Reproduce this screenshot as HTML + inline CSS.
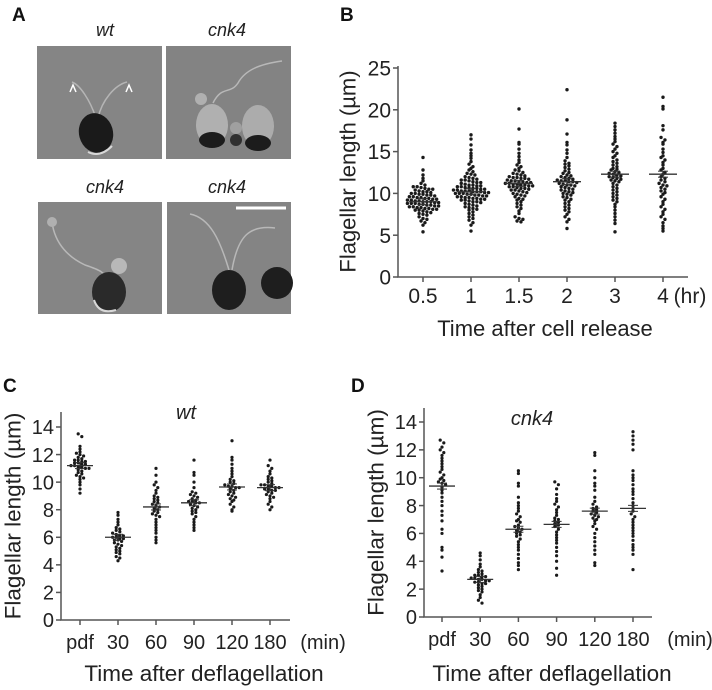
<!DOCTYPE html>
<html><head><meta charset="utf-8"><style>
html,body{margin:0;padding:0;background:#fff;}
svg{display:block;font-family:"Liberation Sans",Arial,sans-serif;}
</style></head><body>
<svg id="fig" width="712" height="690" viewBox="0 0 712 690" xmlns="http://www.w3.org/2000/svg">
<g>
<text x="12" y="21" font-size="19" font-weight="bold" fill="#111">A</text>
<text x="105" y="36" font-size="18" font-style="italic" text-anchor="middle" fill="#222">wt</text>
<text x="227" y="36" font-size="18" font-style="italic" text-anchor="middle" fill="#222">cnk4</text>
<text x="105" y="193" font-size="18" font-style="italic" text-anchor="middle" fill="#222">cnk4</text>
<text x="227" y="193" font-size="18" font-style="italic" text-anchor="middle" fill="#222">cnk4</text>
<g>
<rect x="37" y="46" width="125" height="113" fill="#858585"/>
<path d="M96 118 C90 100 80 85 72 82 M98 118 C102 100 115 85 127 82" stroke="#b5b5b5" stroke-width="1.5" fill="none"/>
<ellipse cx="96" cy="133" rx="17" ry="20" fill="#1a1a1a" transform="rotate(-15 96 133)"/>
<path d="M88 152 q12 6 24 -6" stroke="#d8d8d8" stroke-width="2" fill="none"/>
<path d="M70 92 l3 -7 l3 7 M126 92 l3 -7 l3 7" stroke="#fff" stroke-width="1.5" fill="none"/>
</g>
<g>
<rect x="166" y="46" width="125" height="113" fill="#838383"/>
<path d="M213 103 C222 85 230 95 238 83 C245 70 260 64 282 61" stroke="#b8b8b8" stroke-width="1.5" fill="none"/>
<ellipse cx="212" cy="125" rx="16" ry="21" fill="#b0b0b0"/>
<ellipse cx="212" cy="140" rx="13" ry="8" fill="#1c1c1c"/>
<ellipse cx="258" cy="126" rx="16" ry="21" fill="#acacac"/>
<ellipse cx="258" cy="143" rx="13" ry="8" fill="#1c1c1c"/>
<circle cx="201" cy="99" r="6" fill="#b0b0b0"/>
<circle cx="236" cy="128" r="6" fill="#a0a0a0"/><circle cx="236" cy="140" r="6" fill="#303030"/>
</g>
<g>
<rect x="38" y="202" width="124" height="112" fill="#858585"/>
<path d="M52 222 C55 245 70 258 85 265 C100 270 105 272 108 282" stroke="#b8b8b8" stroke-width="1.5" fill="none"/>
<circle cx="52" cy="222" r="5" fill="#b0b0b0"/>
<circle cx="119" cy="266" r="8" fill="#b8b8b8"/>
<ellipse cx="109" cy="292" rx="17" ry="20" fill="#2a2a2a"/>
<path d="M94 300 q5 15 22 10" stroke="#d8d8d8" stroke-width="2" fill="none"/>
</g>
<g>
<rect x="167" y="202" width="124" height="112" fill="#848484"/>
<path d="M229 270 C220 240 210 218 190 214 M232 270 C238 235 250 225 275 228" stroke="#b8b8b8" stroke-width="1.5" fill="none"/>
<ellipse cx="229" cy="290" rx="17" ry="20" fill="#1e1e1e"/>
<ellipse cx="277" cy="283" rx="16" ry="16" fill="#1e1e1e"/>
<line x1="236" y1="208" x2="286" y2="208" stroke="#fff" stroke-width="3"/>
</g>
</g>
<text x="340" y="21" font-size="19" font-weight="bold" fill="#111">B</text>
<text x="3" y="392" font-size="19" font-weight="bold" fill="#111">C</text>
<text x="351" y="392" font-size="19" font-weight="bold" fill="#111">D</text>
<text x="186" y="419" font-size="20" font-style="italic" text-anchor="middle" fill="#222">wt</text>
<text x="532" y="425" font-size="20" font-style="italic" text-anchor="middle" fill="#222">cnk4</text>
</svg>
<script>
// Panel B data
const bCats = ["0.5","1","1.5","2","3","4"];
const bTicks = [0,5,10,15,20,25];
const bMeans = [9.0,10.2,11.2,11.4,12.3,12.3];
const b05 = [14.3,12.8,12.2,11.8,11.5,11.2,11,10.8,10.8,10.7,10.6,10.5,10.5,10.4,10.3,10.2,10.2,10.1,10,10,9.9,9.9,9.8,9.8,9.7,9.6,9.6,9.5,9.5,9.4,9.4,9.3,9.3,9.2,9.2,9.1,9.1,9,9,9,8.9,8.9,8.8,8.8,8.8,8.7,8.7,8.6,8.6,8.5,8.5,8.4,8.4,8.3,8.3,8.2,8.2,8.1,8.1,8,8,7.9,7.8,7.7,7.6,7.5,7.4,7.2,7,6.9,6.7,6.5,6.2,5.4];
const b1 = [17,16.5,15.8,15.2,14.8,14.5,14.2,13.8,13.5,13.2,13,12.8,12.6,12.4,12.3,12.2,12,11.9,11.8,11.7,11.6,11.6,11.5,11.4,11.3,11.3,11.2,11.1,11,11,10.9,10.9,10.8,10.8,10.7,10.7,10.6,10.6,10.5,10.5,10.4,10.4,10.3,10.3,10.3,10.2,10.2,10.2,10.1,10.1,10,10,10,9.9,9.9,9.8,9.8,9.7,9.7,9.6,9.6,9.5,9.5,9.4,9.4,9.3,9.3,9.2,9.2,9.1,9,9,8.9,8.8,8.7,8.6,8.5,8.4,8.3,8.2,8.1,8,7.8,7.6,7.4,7.2,7,6.8,6.5,6.2,5.5];
const b15 = [20.1,17.7,16.1,15.9,15.3,14.8,14.4,14,13.7,13.4,13.2,13,12.8,12.7,12.5,12.4,12.3,12.2,12.1,12,11.9,11.9,11.8,11.8,11.7,11.6,11.5,11.5,11.4,11.4,11.3,11.3,11.2,11.2,11.1,11.1,11,11,10.9,10.9,10.8,10.8,10.7,10.6,10.6,10.5,10.4,10.4,10.3,10.2,10.1,10,9.9,9.8,9.7,9.6,9.4,9.3,9.2,9,8.8,8.6,8.4,8.2,7.9,7.6,7.2,7,6.9,6.7,6.6];
const b2 = [22.4,18.8,17.1,16.1,15.8,15.2,14.8,14.3,13.9,13.6,13.5,13.3,13.1,12.9,12.7,12.5,12.4,12.2,12.1,12,11.9,11.8,11.7,11.6,11.5,11.5,11.4,11.4,11.3,11.2,11.1,11,11,10.9,10.8,10.7,10.6,10.5,10.4,10.3,10.2,10.1,10,9.9,9.8,9.6,9.5,9.3,9.2,9,8.8,8.6,8.4,8.2,8,7.8,7.5,7.2,6.9,6.6,5.8];
const b3 = [18.4,18,17.6,17.2,16.8,16.5,16.2,15.9,15.6,15.3,15,14.8,14.5,14.3,14,13.8,13.6,13.4,13.2,13,12.9,12.8,12.6,12.5,12.4,12.3,12.2,12.1,12,11.9,11.8,11.7,11.6,11.5,11.4,11.2,11,10.8,10.6,10.4,10.2,10,9.8,9.6,9.4,9.2,9,8.7,8.4,8,7.6,7.2,6.8,6.4,5.4];
const b4 = [21.5,20.4,20.1,18.1,17.6,16.7,16.4,16.1,15.9,15.3,14.9,14.5,14.3,14,13.7,13.4,13,12.8,12.5,12.3,12,11.8,11.6,11.4,11.2,11,10.9,10.7,10.5,10.3,10.1,9.9,9.6,9.3,9,8.7,8.4,8.1,7.8,7.5,7.2,6.9,6.5,6.1,5.8,5.5];
// Panels C/D data
const cdCats = ["pdf","30","60","90","120","180"];
const cdTicks = [0,2,4,6,8,10,12,14];
const cMeans = [11.2,6.0,8.2,8.5,9.65,9.6];
const cPdf = [13.5,13.3,12.6,12.4,12.2,12.1,12,11.9,11.8,11.7,11.6,11.6,11.5,11.5,11.4,11.4,11.3,11.3,11.2,11.2,11.1,11.1,11,11,10.9,10.8,10.7,10.6,10.5,10.4,10.3,10.2,10,9.8,9.5,9.2];
const c30 = [7.8,7.6,7.3,7.1,6.9,6.7,6.6,6.5,6.4,6.3,6.2,6.1,6.1,6,6,5.9,5.9,5.8,5.8,5.7,5.6,5.5,5.4,5.3,5.2,5.1,5,4.9,4.8,4.6,4.5,4.3];
const c60 = [11,10.5,10,9.8,9.6,9.4,9.2,9,8.9,8.8,8.7,8.6,8.5,8.4,8.3,8.2,8.1,8,7.9,7.8,7.7,7.6,7.5,7.3,7.1,6.9,6.7,6.5,6.3,6,5.8,5.6];
const c90 = [11.6,10.7,10.5,10,9.6,9.3,9.2,9.1,9,8.9,8.8,8.7,8.6,8.6,8.5,8.5,8.4,8.3,8.2,8.1,8,7.9,7.8,7.7,7.5,7.3,7.1,6.9,6.7,6.5];
const c120 = [13,11.8,11.6,11.3,11,10.8,10.6,10.4,10.2,10.1,10,9.9,9.8,9.7,9.7,9.6,9.6,9.5,9.4,9.3,9.2,9.1,9,8.9,8.8,8.7,8.6,8.4,8.2,8,7.9];
const c180 = [11.6,11.2,11,10.8,10.6,10.4,10.3,10.2,10.1,10,9.9,9.8,9.8,9.7,9.7,9.6,9.6,9.5,9.5,9.4,9.4,9.3,9.2,9.1,9,8.9,8.8,8.6,8.4,8.2,8];
const dMeans = [9.4,2.7,6.3,6.65,7.6,7.8];
const dPdf = [12.7,12.5,12.2,12,11.8,11.6,11.4,11.2,11,10.8,10.6,10.4,10.2,10,9.9,9.8,9.7,9.6,9.5,9.3,9.1,8.9,8.6,8.3,8,7.6,7.3,6.9,6.3,6,5,4.8,4.3,3.3];
const d30 = [4.6,4.4,4.1,3.8,3.6,3.4,3.3,3.2,3.1,3,3,2.9,2.9,2.8,2.8,2.7,2.7,2.6,2.6,2.5,2.5,2.4,2.4,2.3,2.2,2.1,2,1.9,1.8,1.6,1.4,1.2,1];
const d60 = [10.5,10.3,9.6,9.4,8.6,8.2,8,7.8,7.6,7.4,7.2,7,6.9,6.8,6.6,6.5,6.4,6.3,6.2,6.1,6,5.9,5.8,5.6,5.4,5.2,5,4.8,4.5,4.2,3.9,3.7,3.4];
const d90 = [9.7,9.5,9.2,8.8,8.5,8.3,8.1,7.9,7.7,7.5,7.3,7.1,7,6.9,6.8,6.7,6.6,6.5,6.3,6.1,5.9,5.7,5.5,5.3,5,4.7,4.4,4,3.5,3];
const d120 = [11.8,11.6,10.5,10,9.6,9.4,9.1,8.6,8.3,8.1,7.9,7.8,7.7,7.6,7.5,7.4,7.3,7.2,7.1,7,6.9,6.7,6.5,6.3,6,5.7,5.4,5.1,4.8,4.5,3.9,3.7];
const d180 = [13.3,13,12.7,12.4,12,10.5,10.2,10,9.8,9.5,9.2,9,8.8,8.5,8.2,8,7.8,7.6,7.4,7.2,7,6.8,6.6,6.4,6.2,6,5.8,5.5,5.2,5,4.8,4.5,3.4];

const NS = "http://www.w3.org/2000/svg";
const fig = document.getElementById("fig");
function mk(tag, attrs, parent) {
  const e = document.createElementNS(NS, tag);
  for (const k in attrs) e.setAttribute(k, attrs[k]);
  (parent || fig).appendChild(e);
  return e;
}
function panel(p) {
  const g = mk("g", {});
  
  
  const y = v => p.y0 - (v - p.vmin) / (p.vmax - p.vmin) * (p.y0 - p.y1);
  const x = i => p.xc[0] + i * (p.xc[1] - p.xc[0]);
  const ax = mk("path", {d: `M${p.ax} ${p.ytop} V${p.y0} H${p.xend}`, stroke: "#555", "stroke-width": 1.5, fill: "none"}, g);
  
  
  p.ticks.forEach(t => {
    const yy = y(t);
    mk("line", {x1: p.ax - 5, x2: p.ax, y1: yy, y2: yy, stroke: "#555", "stroke-width": 1.5}, g);
    const tl = mk("text", {x: p.ax - 7, y: yy + p.fs * 0.36, "font-size": p.fs, "text-anchor": "end", fill: "#222"}, g);
    tl.textContent = t;
    
    
  });
  p.cats.forEach((c, i) => {
    const xx = x(i);
    mk("line", {x1: xx, x2: xx, y1: p.y0, y2: p.y0 + 5, stroke: "#555", "stroke-width": 1.5}, g);
    const tl = mk("text", {x: xx, y: p.tly, "font-size": p.fs, "text-anchor": "middle", fill: "#222"}, g);
    tl.textContent = c;
    
    
  });
  const u = mk("text", {x: p.unitX, y: p.tly, "font-size": p.fs, "text-anchor": "middle", fill: "#222"}, g);
  u.textContent = p.unit;
  
  
  const xt = mk("text", {x: p.titleX, y: p.titleY, "font-size": p.tfs, "text-anchor": "middle", fill: "#222"}, g);
  xt.textContent = p.xtitle;
  
  
  const ymid = (p.ytop + p.y0) / 2;
  const yt = mk("text", {x: p.ylx, y: ymid, "font-size": p.tfs, "text-anchor": "middle", fill: "#222", transform: `rotate(-90 ${p.ylx} ${ymid})`, "dominant-baseline": "central"}, g);
  yt.textContent = "Flagellar length (\u00b5m)";
  
  
  p.groups.forEach((vals, i) => {
    const gg = mk("g", {fill: "#1a1a1a"}, g);
    
    
    const rows = {};
    vals.forEach(v => { const r = Math.round(y(v) / p.rowH); (rows[r] = rows[r] || []).push(v); });
    Object.keys(rows).forEach(r => {
      const arr = rows[r];
      arr.forEach((v, k) => {
        const off = (k - (arr.length - 1) / 2) * p.sp;
        const d = mk("circle", {cx: x(i) + off, cy: y(v), r: p.dr}, gg);
        
        
      });
    });
    const m = p.means[i], my = y(m);
    const ml = mk("line", {x1: x(i) - p.mw, x2: x(i) + p.mw, y1: my, y2: my, stroke: "#333", "stroke-width": 1.3}, g);
    
    
    mk("line", {x1: x(i), x2: x(i), y1: my - 3, y2: my + 3, stroke: "#333", "stroke-width": 1.2}, g);
    mk("line", {x1: x(i) - 5, x2: x(i) + 5, y1: my - 3, y2: my - 3, stroke: "#333", "stroke-width": 1}, g);
    mk("line", {x1: x(i) - 5, x2: x(i) + 5, y1: my + 3, y2: my + 3, stroke: "#333", "stroke-width": 1}, g);
  });
}
panel({name: "panel-b-chart", ax: 398, ytop: 66, y0: 277, y1: 68, vmin: 0, vmax: 25, xend: 688,
  xc: [423, 471], cats: bCats, ticks: bTicks, means: bMeans, groups: [b05, b1, b15, b2, b3, b4],
  fs: 21, tfs: 22, tly: 303, unit: "(hr)", unitX: 690, xtitle: "Time after cell release", titleX: 545, titleY: 336,
  ylx: 348, rowH: 3.3, sp: 3.9, dr: 1.7, mw: 14});
panel({name: "panel-c-chart", ax: 61, ytop: 412, y0: 620, y1: 427, vmin: 0, vmax: 14, xend: 290,
  xc: [80, 118], cats: cdCats, ticks: cdTicks, means: cMeans, groups: [cPdf, c30, c60, c90, c120, c180],
  fs: 20, tfs: 22.5, tly: 649, unit: "(min)", unitX: 323, xtitle: "Time after deflagellation", titleX: 204, titleY: 681,
  ylx: 13, rowH: 3.2, sp: 3.6, dr: 1.6, mw: 13});
panel({name: "panel-d-chart", ax: 424, ytop: 408, y0: 617, y1: 422, vmin: 0, vmax: 14, xend: 652,
  xc: [442, 480.2], cats: cdCats, ticks: cdTicks, means: dMeans, groups: [dPdf, d30, d60, d90, d120, d180],
  fs: 20, tfs: 22.5, tly: 646, unit: "(min)", unitX: 690, xtitle: "Time after deflagellation", titleX: 552, titleY: 681,
  ylx: 376, rowH: 3.2, sp: 3.6, dr: 1.6, mw: 13});
</script>
</body></html>
